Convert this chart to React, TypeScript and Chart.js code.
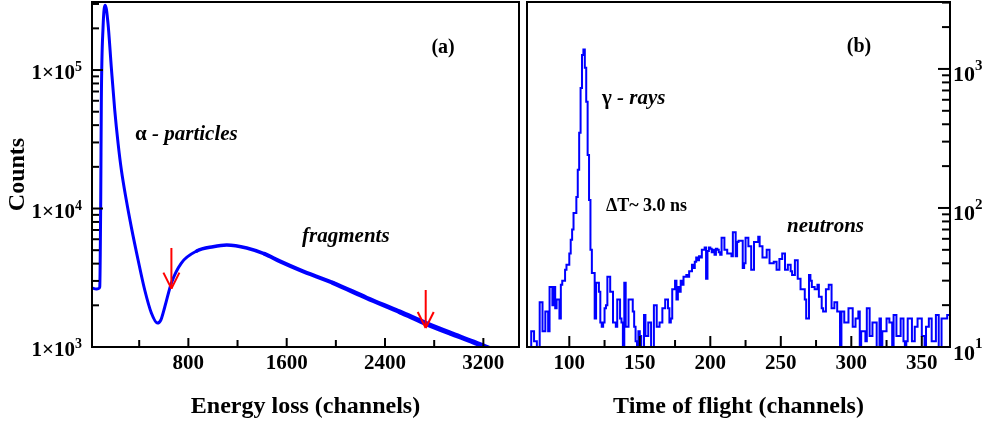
import React, { useEffect, useRef } from "react";
import { Chart, registerables } from "chart.js";

Chart.register(...registerables);

const FONT = '"Liberation Serif", "Times New Roman", serif';
const B = (px: number) => `bold ${px}px ${FONT}`;
const BI = (px: number) => `italic bold ${px}px ${FONT}`;

// ---------- Panel (a): energy loss spectrum ----------
const energyChannels = [16, 50, 71, 79, 87, 92, 106, 124, 146, 173, 201, 228, 255, 295, 336, 391, 445, 499, 548, 575, 608, 662, 743, 868, 1001, 1112, 1275, 1420, 1546, 1709, 1977, 2251, 2522, 2740, 2929, 3116, 3238];
const energyCounts = [2670, 2620, 2640, 2710, 11500, 60700, 204000, 294000, 218000, 105000, 51400, 29700, 18970, 11500, 7340, 4250, 2580, 1760, 1490, 1560, 1945, 2900, 4040, 4930, 5300, 5450, 5190, 4700, 4150, 3590, 2900, 2260, 1790, 1470, 1260, 1090, 985];
const energyXTicks = [400, 800, 1200, 1600, 2000, 2400, 2800, 3200];
const energyXLabels = [800, 1600, 2400, 3200];
const energyYMajor = [1000, 10000, 100000];
const energyYExp = ["3", "4", "5"];
const energyYMinor = [2000, 3000, 4000, 5000, 6000, 7000, 8000, 9000, 20000, 30000, 40000, 50000, 60000, 70000, 80000, 90000, 200000, 300000];
const arrowChannels = [662, 2731];
const arrowTips = [2640, 1371];
const arrowTails = [5190, 2580];

// ---------- Panel (b): time of flight spectrum ----------
const tofFirstChannel = 70;
const tofCounts = [
  9, 9, 9, 13, 13, 11, 11, 9, 9, 21,
  21, 13, 13, 18, 18, 13, 27, 27, 20, 27,
  19, 22, 22, 16, 28, 30, 30, 36, 39, 39,
  47, 59, 70, 92, 92, 120, 188, 347, 730, 1260,
  1380, 1020, 580, 240, 114, 50, 34, 34, 16, 29,
  29, 25, 15, 14, 15, 19, 20, 32, 32, 25,
  25, 15, 15, 14, 22, 22, 16, 15, 9, 29,
  14, 14, 22, 22, 22, 18, 14, 11, 9, 13,
  12, 9, 10, 17, 12, 12, 15, 15, 9, 10,
  20, 20, 14, 14, 15, 15, 19, 19, 22, 22,
  19, 15, 16, 26, 26, 30, 22, 27, 25, 30,
  28, 32, 32, 33, 32, 35, 35, 39, 37, 41,
  44, 42, 45, 44, 50, 50, 52, 31, 49, 52,
  51, 48, 50, 46, 51, 50, 48, 46, 61, 61,
  50, 50, 47, 47, 47, 45, 67, 67, 45, 57,
  58, 58, 58, 37, 40, 61, 61, 53, 53, 36,
  36, 57, 57, 57, 62, 53, 53, 44, 44, 44,
  50, 50, 40, 40, 40, 41, 41, 36, 36, 43,
  43, 47, 47, 36, 36, 39, 39, 35, 33, 33,
  42, 42, 31, 31, 26, 26, 26, 22, 16, 16,
  33, 30, 27, 27, 26, 26, 28, 23, 23, 19,
  18, 18, 26, 26, 28, 28, 19, 19, 21, 21,
  18, 18, 9, 18, 18, 15, 15, 15, 19, 19,
  19, 14, 14, 16, 16, 18, 9, 13, 13, 13,
  11, 19, 19, 12, 12, 15, 15, 15, 10, 10,
  16, 9, 13, 13, 13, 16, 16, 15, 15, 9,
  17, 17, 12, 12, 12, 16, 16, 11, 9, 11,
  16, 16, 16, 11, 11, 14, 14, 16, 16, 16,
  12, 12, 9, 14, 14, 16, 16, 11, 11, 11,
  17, 17, 10, 9, 16, 16, 16, 16, 17, 17,
];
const tofXTicks = [100, 125, 150, 175, 200, 225, 250, 275, 300, 325, 350];
const tofXLabels = [100, 150, 200, 250, 300, 350];
const tofYMajor = [10, 100, 1000];
const tofYExp = ["1", "2", "3"];
const tofYMinor = [20, 30, 40, 50, 60, 70, 80, 90, 200, 300, 400, 500, 600, 700, 800, 900, 2000, 3000];

type Run = [string, string];
function drawRuns(ctx: CanvasRenderingContext2D, runs: Run[], x: number, y: number, align: "left" | "center" = "left") {
  const widths = runs.map(([t, f]) => {
    ctx.font = f;
    return ctx.measureText(t).width;
  });
  const total = widths.reduce((a, b) => a + b, 0);
  let cx = align === "center" ? x - total / 2 : x;
  ctx.textAlign = "left";
  ctx.textBaseline = "alphabetic";
  runs.forEach(([t, f], i) => {
    ctx.font = f;
    ctx.fillText(t, cx, y);
    cx += widths[i];
  });
}

function drawFrame(ctx: CanvasRenderingContext2D, a: any) {
  ctx.strokeStyle = "#000";
  ctx.lineWidth = 2;
  ctx.strokeRect(a.left, a.top, a.right - a.left, a.bottom - a.top);
}

function line(ctx: CanvasRenderingContext2D, x1: number, y1: number, x2: number, y2: number) {
  ctx.beginPath();
  ctx.moveTo(x1, y1);
  ctx.lineTo(x2, y2);
  ctx.stroke();
}

const energyDecor = {
  id: "energyDecor",
  afterDatasetsDraw(chart: any) {
    const { ctx, chartArea: a, scales } = chart;
    const x = scales.x, y = scales.y;
    ctx.save();
    drawFrame(ctx, a);
    ctx.lineWidth = 2;
    energyXTicks.forEach((v) => {
      const px = x.getPixelForValue(v);
      const len = energyXLabels.includes(v) ? 9 : 7;
      line(ctx, px, a.bottom, px, a.bottom - len);
    });
    energyYMajor.forEach((v) => {
      const py = y.getPixelForValue(v);
      line(ctx, a.left, py, a.left + 11, py);
    });
    energyYMinor.forEach((v) => {
      const py = y.getPixelForValue(v);
      line(ctx, a.left, py, a.left + 7, py);
    });
    ctx.fillStyle = "#000";
    energyYMajor.forEach((v, i) => {
      const py = y.getPixelForValue(v);
      ctx.font = B(21);
      const w1 = ctx.measureText("1×10").width;
      ctx.font = B(14);
      const w2 = ctx.measureText(energyYExp[i]).width;
      const x0 = a.left - 10 - w1 - w2;
      ctx.textAlign = "left";
      ctx.textBaseline = "alphabetic";
      ctx.font = B(21);
      ctx.fillText("1×10", x0, py + 9);
      ctx.font = B(14);
      ctx.fillText(energyYExp[i], x0 + w1, py + 1);
    });
    // annotations
    drawRuns(ctx, [["(a)", B(20)]], x.getPixelForValue(2872), y.getPixelForValue(137000) + 2, "center");
    drawRuns(ctx, [["α", B(21)], [" - particles", BI(21)]], x.getPixelForValue(366), y.getPixelForValue(31300));
    drawRuns(ctx, [["fragments", BI(21)]], x.getPixelForValue(1725), y.getPixelForValue(5730));
    // arrows
    ctx.strokeStyle = "#ff0000";
    ctx.lineWidth = 2;
    arrowChannels.forEach((c, i) => {
      const px = x.getPixelForValue(c);
      const tip = y.getPixelForValue(arrowTips[i]);
      const tail = y.getPixelForValue(arrowTails[i]);
      line(ctx, px, tail, px, tip);
      line(ctx, px - 8, tip - 16, px, tip);
      line(ctx, px + 8, tip - 16, px, tip);
    });
    ctx.restore();
  },
};

const tofDecor = {
  id: "tofDecor",
  afterDatasetsDraw(chart: any) {
    const { ctx, chartArea: a, scales } = chart;
    const x = scales.x, y = scales.y;
    ctx.save();
    drawFrame(ctx, a);
    ctx.lineWidth = 2;
    tofXTicks.forEach((v) => {
      const px = x.getPixelForValue(v);
      const len = tofXLabels.includes(v) ? 11 : 7;
      line(ctx, px, a.bottom, px, a.bottom - len);
    });
    tofYMajor.forEach((v) => {
      const py = y.getPixelForValue(v);
      line(ctx, a.right, py, a.right - 12, py);
    });
    tofYMinor.forEach((v) => {
      const py = y.getPixelForValue(v);
      line(ctx, a.right, py, a.right - 8, py);
    });
    ctx.fillStyle = "#000";
    tofYMajor.forEach((v, i) => {
      const py = y.getPixelForValue(v);
      ctx.textAlign = "left";
      ctx.textBaseline = "alphabetic";
      ctx.font = B(22);
      const w1 = ctx.measureText("10").width;
      const x0 = a.right + 3;
      ctx.fillText("10", x0, py + 12.5);
      ctx.font = B(15);
      ctx.fillText(tofYExp[i], x0 + w1, py + 1);
    });
    drawRuns(ctx, [["(b)", B(20)]], x.getPixelForValue(305.5), y.getPixelForValue(1345) + 1, "center");
    drawRuns(ctx, [["γ", B(21)], [" - rays", BI(21)]], x.getPixelForValue(123.2), y.getPixelForValue(560));
    drawRuns(ctx, [["ΔT~ 3.0 ns", B(18)]], x.getPixelForValue(126), y.getPixelForValue(95));
    drawRuns(ctx, [["neutrons", BI(21)]], x.getPixelForValue(254.4), y.getPixelForValue(68) + 1);
    ctx.restore();
  },
};

function energyConfig(): any {
  return {
    type: "line",
    data: {
      datasets: [
        {
          data: energyChannels.map((c, i) => ({ x: c, y: energyCounts[i] })),
          borderColor: "#0000ff",
          borderWidth: 3,
          borderCapStyle: "round",
          borderJoinStyle: "round",
          pointRadius: 0,
          cubicInterpolationMode: "monotone",
          fill: false,
          segment: {
            borderWidth: (ctx: any) => {
              const v = ctx.p0.parsed.x;
              return v < 800 ? 3 : v < 1300 ? 3.5 : v < 1900 ? 4 : v < 2500 ? 4.5 : 5;
            },
          },
        },
      ],
    },
    options: {
      animation: false,
      responsive: false,
      maintainAspectRatio: false,
      layout: { padding: { top: 2, right: 4, left: 0, bottom: 0 } },
      plugins: { legend: { display: false }, tooltip: { enabled: false } },
      scales: {
        x: {
          type: "linear",
          min: 16,
          max: 3490,
          afterBuildTicks: (s: any) => {
            s.ticks = energyXTicks.map((v) => ({ value: v }));
          },
          ticks: {
            callback: (v: any) => (energyXLabels.includes(Number(v)) ? String(v) : ""),
            font: { family: FONT, size: 21, weight: "bold" },
            color: "#000",
            padding: 4,
            maxRotation: 0,
            autoSkip: false,
          },
          grid: { display: false, drawTicks: false },
          border: { display: false },
          title: {
            display: true,
            text: "Energy loss (channels)",
            font: { family: FONT, size: 24, weight: "bold" },
            color: "#000",
            padding: { top: 4, bottom: 4 },
          },
          afterFit: (s: any) => {
            s.height = 78;
          },
        },
        y: {
          type: "logarithmic",
          min: 1000,
          max: 310000,
          ticks: { display: false },
          grid: { display: false, drawTicks: false },
          border: { display: false },
          title: {
            display: true,
            text: "Counts",
            font: { family: FONT, size: 24, weight: "bold" },
            color: "#000",
            padding: { top: 3, bottom: 3 },
          },
          afterFit: (s: any) => {
            s.width = 92;
          },
        },
      },
    },
    plugins: [energyDecor],
  };
}

function tofConfig(): any {
  const pts = tofCounts.map((v, i) => ({ x: tofFirstChannel + i, y: v }));
  pts.push({ x: tofFirstChannel + tofCounts.length, y: tofCounts[tofCounts.length - 1] });
  return {
    type: "line",
    data: {
      datasets: [
        {
          data: pts,
          borderColor: "#0000ff",
          borderWidth: 2,
          pointRadius: 0,
          stepped: "before",
          fill: false,
        },
      ],
    },
    options: {
      animation: false,
      responsive: false,
      maintainAspectRatio: false,
      layout: { padding: { top: 2, right: 0, left: 4, bottom: 0 } },
      plugins: { legend: { display: false }, tooltip: { enabled: false } },
      scales: {
        x: {
          type: "linear",
          min: 70,
          max: 370,
          afterBuildTicks: (s: any) => {
            s.ticks = tofXTicks.map((v) => ({ value: v }));
          },
          ticks: {
            callback: (v: any) => (tofXLabels.includes(Number(v)) ? String(v) : ""),
            font: { family: FONT, size: 21, weight: "bold" },
            color: "#000",
            padding: 4,
            maxRotation: 0,
            autoSkip: false,
          },
          grid: { display: false, drawTicks: false },
          border: { display: false },
          title: {
            display: true,
            text: "Time of flight (channels)",
            font: { family: FONT, size: 24, weight: "bold" },
            color: "#000",
            padding: { top: 4, bottom: 4 },
          },
          afterFit: (s: any) => {
            s.height = 78;
          },
        },
        y: {
          type: "logarithmic",
          position: "right",
          min: 10,
          max: 3030,
          ticks: { display: false },
          grid: { display: false, drawTicks: false },
          border: { display: false },
          afterFit: (s: any) => {
            s.width = 40;
          },
        },
      },
    },
    plugins: [tofDecor],
  };
}

export default function App() {
  const leftRef = useRef<HTMLCanvasElement | null>(null);
  const rightRef = useRef<HTMLCanvasElement | null>(null);

  useEffect(() => {
    Chart.defaults.font.family = FONT;
    const c1 = new Chart(leftRef.current as HTMLCanvasElement, energyConfig());
    const c2 = new Chart(rightRef.current as HTMLCanvasElement, tofConfig());
    return () => {
      c1.destroy();
      c2.destroy();
    };
  }, []);

  return (
    <div style={{ position: "fixed", left: 0, top: 0, width: 990, height: 425, background: "#fff" }}>
      <canvas
        ref={leftRef}
        width={523}
        height={425}
        style={{ position: "absolute", left: 0, top: 0, width: 523, height: 425 }}
      />
      <canvas
        ref={rightRef}
        width={467}
        height={425}
        style={{ position: "absolute", left: 523, top: 0, width: 467, height: 425 }}
      />
    </div>
  );
}
